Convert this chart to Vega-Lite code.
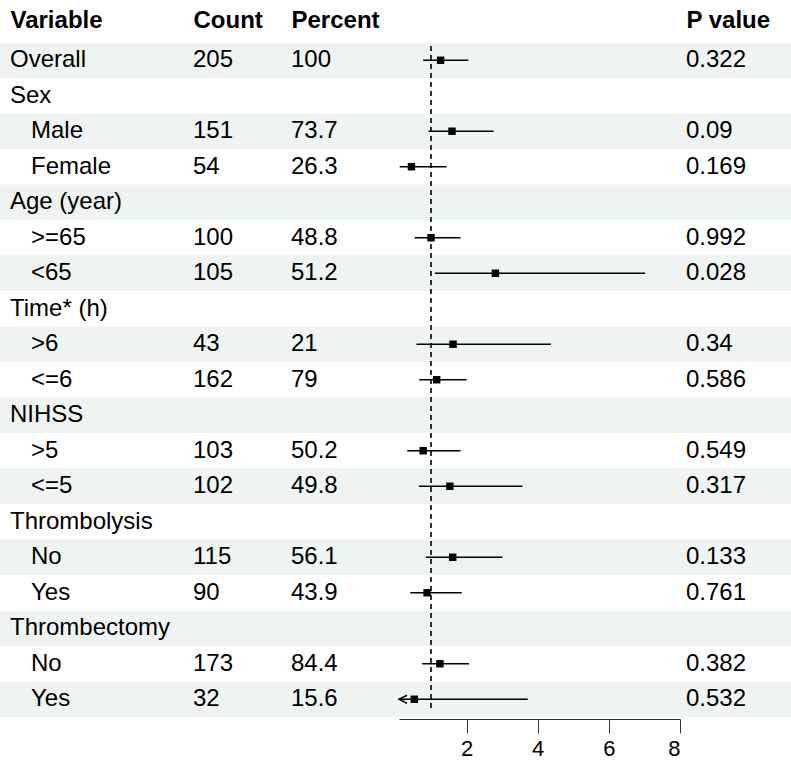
{
  "$schema": "https://vega.github.io/schema/vega-lite/v6.json",
  "padding": 0,
  "spacing": 0,
  "bounds": "flush",
  "background": "white",
  "config": {
    "view": {"stroke": null},
    "font": "Liberation Sans",
    "text": {"font": "Liberation Sans", "fontSize": 24, "color": "black"},
    "axis": {"labelFontSize": 22, "labelFont": "Liberation Sans", "labelColor": "black", "tickSize": 14, "tickColor": "#333333", "domainColor": "#333333", "labelPadding": 5, "grid": false}
  },
  "datasets": {
    "rows": [
      {"row": 1, "label": "Overall", "indent": false, "count": "205", "pct": "100", "est": 1.27, "lo": 0.78, "hi": 2.05, "p": "0.322"},
      {"row": 2, "label": "Sex", "indent": false},
      {"row": 3, "label": "Male", "indent": true, "count": "151", "pct": "73.7", "est": 1.59, "lo": 0.93, "hi": 2.76, "p": "0.09"},
      {"row": 4, "label": "Female", "indent": true, "count": "54", "pct": "26.3", "est": 0.45, "lo": 0.12, "hi": 1.44, "p": "0.169"},
      {"row": 5, "label": "Age (year)", "indent": false},
      {"row": 6, "label": ">=65", "indent": true, "count": "100", "pct": "48.8", "est": 1.0, "lo": 0.54, "hi": 1.83, "p": "0.992"},
      {"row": 7, "label": "<65", "indent": true, "count": "105", "pct": "51.2", "est": 2.81, "lo": 1.11, "hi": 7.02, "p": "0.028"},
      {"row": 8, "label": "Time* (h)", "indent": false},
      {"row": 9, "label": ">6", "indent": true, "count": "43", "pct": "21", "est": 1.62, "lo": 0.59, "hi": 4.37, "p": "0.34"},
      {"row": 10, "label": "<=6", "indent": true, "count": "162", "pct": "79", "est": 1.16, "lo": 0.67, "hi": 2.0, "p": "0.586"},
      {"row": 11, "label": "NIHSS", "indent": false},
      {"row": 12, "label": ">5", "indent": true, "count": "103", "pct": "50.2", "est": 0.78, "lo": 0.33, "hi": 1.83, "p": "0.549"},
      {"row": 13, "label": "<=5", "indent": true, "count": "102", "pct": "49.8", "est": 1.53, "lo": 0.66, "hi": 3.57, "p": "0.317"},
      {"row": 14, "label": "Thrombolysis", "indent": false},
      {"row": 15, "label": "No", "indent": true, "count": "115", "pct": "56.1", "est": 1.61, "lo": 0.85, "hi": 3.01, "p": "0.133"},
      {"row": 16, "label": "Yes", "indent": true, "count": "90", "pct": "43.9", "est": 0.89, "lo": 0.42, "hi": 1.86, "p": "0.761"},
      {"row": 17, "label": "Thrombectomy", "indent": false},
      {"row": 18, "label": "No", "indent": true, "count": "173", "pct": "84.4", "est": 1.25, "lo": 0.75, "hi": 2.07, "p": "0.382"},
      {"row": 19, "label": "Yes", "indent": true, "count": "32", "pct": "15.6", "est": 0.53, "lo": 0.05, "hi": 3.72, "p": "0.532"}
    ]
  },
  "hconcat": [
    {
      "width": 183, "height": 717,
      "data": {"name": "rows"},
      "layer": [
        {"transform": [{"filter": "datum.row % 2 == 1"}], "mark": {"type": "rect", "color": "#eff3f2"},
         "encoding": {"y": {"field": "row", "type": "ordinal", "scale": {"domain": [1,2,3,4,5,6,7,8,9,10,11,12,13,14,15,16,17,18,19], "paddingInner": 0, "paddingOuter": 0.5986, "align": 1}, "axis": null}}},
        {"transform": [{"filter": "!datum.indent"}], "mark": {"type": "text", "align": "left", "baseline": "middle", "dx": 10},
         "encoding": {
           "y": {"field": "row", "type": "ordinal", "scale": {"domain": [1,2,3,4,5,6,7,8,9,10,11,12,13,14,15,16,17,18,19], "paddingInner": 0, "paddingOuter": 0.5986, "align": 1}, "axis": null},
           "x": {"datum": 0, "type": "quantitative", "scale": {"domain": [0, 1]}, "axis": {"orient": "top", "title": "Variable", "labels": false, "ticks": false, "domain": false, "grid": false, "titleX": 10, "titleY": 20, "titleAlign": "left", "titleAnchor": "start", "titleBaseline": "middle", "titleFontSize": 24, "titleFontWeight": "bold", "titleColor": "black", "titleFont": "Liberation Sans"}},
           "text": {"field": "label", "type": "nominal"}}},
        {"transform": [{"filter": "datum.indent"}], "mark": {"type": "text", "align": "left", "baseline": "middle", "dx": 31},
         "encoding": {
           "y": {"field": "row", "type": "ordinal", "scale": {"domain": [1,2,3,4,5,6,7,8,9,10,11,12,13,14,15,16,17,18,19], "paddingInner": 0, "paddingOuter": 0.5986, "align": 1}, "axis": null},
           "x": {"datum": 0, "type": "quantitative", "scale": {"domain": [0, 1]}, "axis": {"orient": "top", "title": "Variable", "labels": false, "ticks": false, "domain": false, "grid": false, "titleX": 10, "titleY": 20, "titleAlign": "left", "titleAnchor": "start", "titleBaseline": "middle", "titleFontSize": 24, "titleFontWeight": "bold", "titleColor": "black", "titleFont": "Liberation Sans"}},
           "text": {"field": "label", "type": "nominal"}}}
      ]
    },
    {
      "width": 100, "height": 717,
      "data": {"name": "rows"},
      "layer": [
        {"transform": [{"filter": "datum.row % 2 == 1"}], "mark": {"type": "rect", "color": "#eff3f2"},
         "encoding": {"y": {"field": "row", "type": "ordinal", "scale": {"domain": [1,2,3,4,5,6,7,8,9,10,11,12,13,14,15,16,17,18,19], "paddingInner": 0, "paddingOuter": 0.5986, "align": 1}, "axis": null}}},
        {"transform": [{"filter": "isValid(datum.count)"}], "mark": {"type": "text", "align": "left", "baseline": "middle", "dx": 10},
         "encoding": {
           "y": {"field": "row", "type": "ordinal", "scale": {"domain": [1,2,3,4,5,6,7,8,9,10,11,12,13,14,15,16,17,18,19], "paddingInner": 0, "paddingOuter": 0.5986, "align": 1}, "axis": null},
           "x": {"datum": 0, "type": "quantitative", "scale": {"domain": [0, 1]}, "axis": {"orient": "top", "title": "Count", "labels": false, "ticks": false, "domain": false, "grid": false, "titleX": 10, "titleY": 20, "titleAlign": "left", "titleAnchor": "start", "titleBaseline": "middle", "titleFontSize": 24, "titleFontWeight": "bold", "titleColor": "black", "titleFont": "Liberation Sans"}},
           "text": {"field": "count", "type": "nominal"}}}
      ]
    },
    {
      "width": 116, "height": 717,
      "data": {"name": "rows"},
      "layer": [
        {"transform": [{"filter": "datum.row % 2 == 1"}], "mark": {"type": "rect", "color": "#eff3f2"},
         "encoding": {"y": {"field": "row", "type": "ordinal", "scale": {"domain": [1,2,3,4,5,6,7,8,9,10,11,12,13,14,15,16,17,18,19], "paddingInner": 0, "paddingOuter": 0.5986, "align": 1}, "axis": null}}},
        {"transform": [{"filter": "isValid(datum.pct)"}], "mark": {"type": "text", "align": "left", "baseline": "middle", "dx": 8},
         "encoding": {
           "y": {"field": "row", "type": "ordinal", "scale": {"domain": [1,2,3,4,5,6,7,8,9,10,11,12,13,14,15,16,17,18,19], "paddingInner": 0, "paddingOuter": 0.5986, "align": 1}, "axis": null},
           "x": {"datum": 0, "type": "quantitative", "scale": {"domain": [0, 1]}, "axis": {"orient": "top", "title": "Percent", "labels": false, "ticks": false, "domain": false, "grid": false, "titleX": 8, "titleY": 20, "titleAlign": "left", "titleAnchor": "start", "titleBaseline": "middle", "titleFontSize": 24, "titleFontWeight": "bold", "titleColor": "black", "titleFont": "Liberation Sans"}},
           "text": {"field": "pct", "type": "nominal"}}}
      ]
    },
    {
      "width": 281, "height": 717,
      "data": {"name": "rows"},
      "layer": [
        {"transform": [{"filter": "datum.row % 2 == 1"}], "mark": {"type": "rect", "color": "#eff3f2"},
         "encoding": {"y": {"field": "row", "type": "ordinal", "scale": {"domain": [1,2,3,4,5,6,7,8,9,10,11,12,13,14,15,16,17,18,19], "paddingInner": 0, "paddingOuter": 0.5986, "align": 1}, "axis": null}}},
        {"mark": {"type": "rule", "strokeDash": [5, 4], "color": "#333333", "strokeWidth": 1.1},
         "encoding": {
           "x": {"datum": 1, "type": "quantitative", "scale": {"domain": [0.1, 8], "clamp": true, "nice": false, "zero": false}, "axis": {"orient": "bottom", "values": [2, 4, 6, 8], "title": null, "offset": 2, "labelFontSize": 22}},
           "y": {"datum": 1, "type": "ordinal", "bandPosition": 0.1, "scale": {"domain": [1,2,3,4,5,6,7,8,9,10,11,12,13,14,15,16,17,18,19], "paddingInner": 0, "paddingOuter": 0.5986, "align": 1}, "axis": null},
           "y2": {"datum": 19, "bandPosition": 0.83}}},
        {"transform": [{"filter": "isValid(datum.est)"}], "mark": {"type": "rule", "color": "black", "strokeWidth": 1.4},
         "encoding": {
           "x": {"field": "lo", "type": "quantitative", "scale": {"domain": [0.1, 8], "clamp": true, "nice": false, "zero": false}},
           "x2": {"field": "hi"},
           "y": {"field": "row", "type": "ordinal", "scale": {"domain": [1,2,3,4,5,6,7,8,9,10,11,12,13,14,15,16,17,18,19], "paddingInner": 0, "paddingOuter": 0.5986, "align": 1}, "axis": null}}},
        {"transform": [{"filter": "isValid(datum.est)"}], "mark": {"type": "square", "color": "black", "filled": true, "opacity": 1, "size": 55},
         "encoding": {
           "x": {"field": "est", "type": "quantitative", "scale": {"domain": [0.1, 8], "clamp": true, "nice": false, "zero": false}},
           "y": {"field": "row", "type": "ordinal", "scale": {"domain": [1,2,3,4,5,6,7,8,9,10,11,12,13,14,15,16,17,18,19], "paddingInner": 0, "paddingOuter": 0.5986, "align": 1}, "axis": null}}},
        {"transform": [{"filter": "isValid(datum.lo) && datum.lo < 0.1"}], "mark": {"type": "point", "shape": "M2,-1L0,0L2,1", "filled": false, "stroke": "black", "strokeWidth": 1.4, "opacity": 1, "size": 64},
         "encoding": {
           "x": {"field": "lo", "type": "quantitative", "scale": {"domain": [0.1, 8], "clamp": true, "nice": false, "zero": false}},
           "y": {"field": "row", "type": "ordinal", "scale": {"domain": [1,2,3,4,5,6,7,8,9,10,11,12,13,14,15,16,17,18,19], "paddingInner": 0, "paddingOuter": 0.5986, "align": 1}, "axis": null}}}
      ]
    },
    {
      "width": 111, "height": 717,
      "data": {"name": "rows"},
      "layer": [
        {"transform": [{"filter": "datum.row % 2 == 1"}], "mark": {"type": "rect", "color": "#eff3f2"},
         "encoding": {"y": {"field": "row", "type": "ordinal", "scale": {"domain": [1,2,3,4,5,6,7,8,9,10,11,12,13,14,15,16,17,18,19], "paddingInner": 0, "paddingOuter": 0.5986, "align": 1}, "axis": null}}},
        {"transform": [{"filter": "isValid(datum.p)"}], "mark": {"type": "text", "align": "left", "baseline": "middle", "dx": 6},
         "encoding": {
           "y": {"field": "row", "type": "ordinal", "scale": {"domain": [1,2,3,4,5,6,7,8,9,10,11,12,13,14,15,16,17,18,19], "paddingInner": 0, "paddingOuter": 0.5986, "align": 1}, "axis": null},
           "x": {"datum": 0, "type": "quantitative", "scale": {"domain": [0, 1]}, "axis": {"orient": "top", "title": "P value", "labels": false, "ticks": false, "domain": false, "grid": false, "titleX": 6, "titleY": 20, "titleAlign": "left", "titleAnchor": "start", "titleBaseline": "middle", "titleFontSize": 24, "titleFontWeight": "bold", "titleColor": "black", "titleFont": "Liberation Sans"}},
           "text": {"field": "p", "type": "nominal"}}}
      ]
    }
  ]
}
